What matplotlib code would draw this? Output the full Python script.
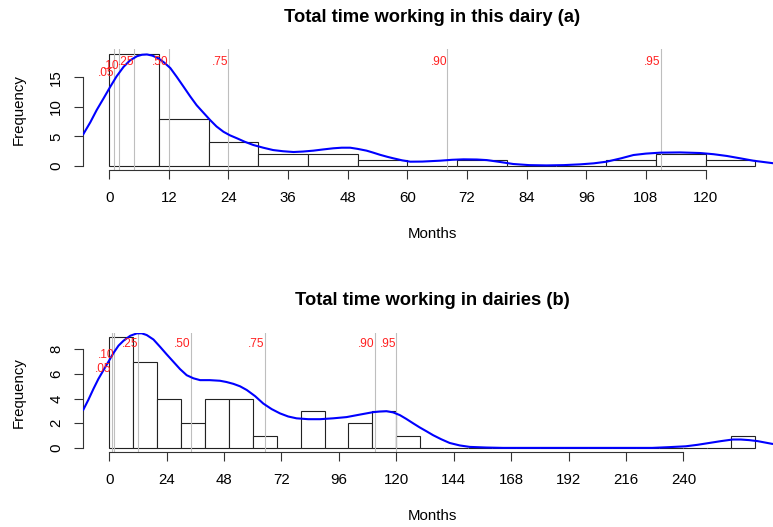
import matplotlib
matplotlib.use('Agg')
import matplotlib.pyplot as plt
import numpy as np

plt.rcParams['font.family'] = ['Liberation Sans', 'DejaVu Sans']

# (a) total time working in this dairy, bins of 10 months
bins_a = [0, 10, 20, 30, 40, 50, 60, 70, 80, 90, 100, 110, 120, 130]
count_a = [19, 8, 4, 2, 2, 1, 0, 1, 0, 0, 1, 2, 1]
quant_a = [1, 2, 5, 12, 24, 68, 111]
dens_a_x = [-5.2, -3.8, -2.5, -1.1, 0.2, 1.5, 2.9, 4.2, 5.6, 6.6, 7.6, 8.7, 9.9, 11.1,
            12.3, 13.6, 15, 16.3, 17.6, 19, 20.3, 21.6, 23, 24.3, 25.7, 27.3, 29,
            31, 33, 35, 37.1, 39, 41.1, 43, 45.1, 46.8, 48.5, 50, 51.8, 53, 54.5,
            56, 57.2, 59, 60.6, 63, 66.6, 69, 71.3, 74, 76, 78.5, 81.3, 84.5, 88,
            91.5, 94.8, 97.5, 100.1, 103, 105.5, 108, 110.9, 114.9, 118.9, 121.6,
            124.3, 127, 129.6, 132.4, 135.2]
dens_a_y = [5.4, 7.4, 9.5, 11.5, 13.4, 15.2, 16.8, 17.9, 18.6, 18.85, 18.9, 18.7, 18.25, 17.5,
            16.6, 15.1, 13.4, 11.8, 10.3, 9.0, 7.8, 6.7, 5.8, 5.2, 4.7, 4.1, 3.56,
            3.1, 2.7, 2.5, 2.37, 2.45, 2.6, 2.8, 3.0, 3.1, 3.1, 2.9, 2.6, 2.3, 1.9,
            1.55, 1.3, 0.95, 0.73, 0.75, 0.9, 1.05, 1.13, 1.1, 1.0, 0.7, 0.34, 0.15, 0.1,
            0.15, 0.28, 0.45, 0.73, 1.3, 1.86, 2.1, 2.26, 2.3, 2.2, 2.0,
            1.7, 1.3, 0.9, 0.6, 0.3]
xticks_a = [0, 12, 24, 36, 48, 60, 72, 84, 96, 108, 120]
yticks_a = [0, 5, 10, 15]

# (b) total time working in dairies
bins_b = [0, 10, 20, 30, 40, 50, 60, 70, 80, 90, 100, 110, 120, 130, 140, 150,
          160, 170, 180, 190, 200, 210, 220, 230, 240, 250, 260, 270]
count_b = [9, 7, 4, 2, 4, 4, 1, 0, 3, 0, 2, 3, 1,
           0, 0, 0, 0, 0, 0, 0, 0, 0, 0, 0, 0, 0, 1]
quant_b = [1, 2, 12, 34, 65, 111, 120]
dens_b_x = [-10.8, -8.7, -6.55, -4.5, -2.4, -0.3, 1.8, 3.9, 6.0, 8.8, 11.6, 13.6, 15.7,
            18.5, 21.3, 24, 26.8, 29.6, 32.4, 35.2, 38, 42, 46.3, 49, 51.9, 54.7,
            57.5, 61, 64.4, 67.9, 71.4, 74.8, 78.3, 83.2, 88.1, 93.6, 99.2, 104.7,
            110.3, 113, 115.9, 118.7, 121.5, 124.2, 127, 129.8, 132.6, 135.4, 138.8,
            142.3, 146.5, 150.7, 157.6, 164.6, 227, 234, 241, 245.9, 250.8, 255.7,
            260.6, 264, 267.5, 271, 277, 280.8]
dens_b_y = [3.1, 3.9, 4.8, 5.6, 6.3, 7.0, 7.7, 8.3, 8.7, 9.1, 9.3, 9.3, 9.16,
            8.8, 8.2, 7.6, 7.0, 6.4, 5.9, 5.65, 5.5, 5.5, 5.45, 5.35, 5.2, 5.0,
            4.7, 4.2, 3.6, 3.15, 2.8, 2.55, 2.4, 2.33, 2.33, 2.4, 2.5, 2.7,
            2.9, 2.95, 2.98, 2.88, 2.66, 2.35, 2.0, 1.66, 1.35, 1.03, 0.7,
            0.4, 0.2, 0.08, 0.03, 0.0, 0.0, 0.06, 0.13, 0.25, 0.4, 0.55,
            0.68, 0.68, 0.63, 0.55, 0.33, 0.25]
xticks_b = [0, 24, 48, 72, 96, 120, 144, 168, 192, 216, 240]
yticks_b = [0, 2, 4, 6, 8]

quant_labels = ['.05', '.10', '.25', '.50', '.75', '.90', '.95']


def panel(ax, bins, counts, quants, dx, dy, xticks, yticks, title, lab_y, h_px):
    ax.hist(bins[:-1], bins=bins, weights=counts, color='white',
            edgecolor='#222222', linewidth=0.8, zorder=1)
    for q, lab, ly in zip(quants, quant_labels, lab_y):
        ax.axvline(q, color='#BEBEBE', linewidth=0.8, zorder=2)
        ax.text(q, ly, lab, color='#FF2020', fontsize=8.6, ha='right', va='center', zorder=4)
    ax.plot(dx, dy, color='#0000FF', linewidth=1.5, zorder=3)

    # batas sumbu ala R (4% ekstra)
    ext = 0.04 * (bins[-1] - bins[0])
    ax.set_xlim(bins[0] - ext, bins[-1] + ext)
    top = max(counts)
    ax.set_ylim(-0.04 * top, 1.04 * top)

    for s in ['top', 'right']:
        ax.spines[s].set_visible(False)
    ax.spines['left'].set_bounds(yticks[0], yticks[-1])
    ax.spines['bottom'].set_bounds(xticks[0], xticks[-1])
    for s in ['left', 'bottom']:
        ax.spines[s].set_color('#333333')
        ax.spines[s].set_linewidth(0.8)

    ax.set_xticks(xticks)
    ax.set_yticks(yticks)
    ax.set_yticklabels([str(v) for v in yticks], rotation=90, va='center')
    ax.tick_params(axis='both', direction='out', length=6.5, width=0.8,
                   color='#333333', labelsize=10.8)
    ax.tick_params(axis='x', pad=8.5)
    ax.tick_params(axis='y', pad=8)

    ax.set_title(title, fontsize=13.2, fontweight='bold', pad=20)
    ax.set_xlabel('Months', fontsize=10.8, va='center')
    ax.xaxis.set_label_coords(0.5, -64 / h_px)
    ax.set_ylabel('Frequency', fontsize=10.8, va='center')
    ax.yaxis.set_label_coords(-0.0925, 0.5)


def main():
    fig = plt.figure(figsize=(7.73, 5.27), dpi=100)
    ax1 = fig.add_axes([0.1078, 0.6765, 0.9026, 0.2298])
    ax2 = fig.add_axes([0.1078, 0.1417, 0.9026, 0.2272])

    panel(ax1, bins_a, count_a, quant_a, dens_a_x, dens_a_y, xticks_a, yticks_a,
          'Total time working in this dairy (a)',
          [15.8, 16.9, 17.7, 17.7, 17.7, 17.7, 17.7], 0.2298 * 527)
    panel(ax2, bins_b, count_b, quant_b, dens_b_x, dens_b_y, xticks_b, yticks_b,
          'Total time working in dairies (b)',
          [6.37, 7.54, 8.43, 8.43, 8.43, 8.43, 8.43], 0.2272 * 527)

    fig.savefig('out.png', dpi=100)


if __name__ == '__main__':
    main()
